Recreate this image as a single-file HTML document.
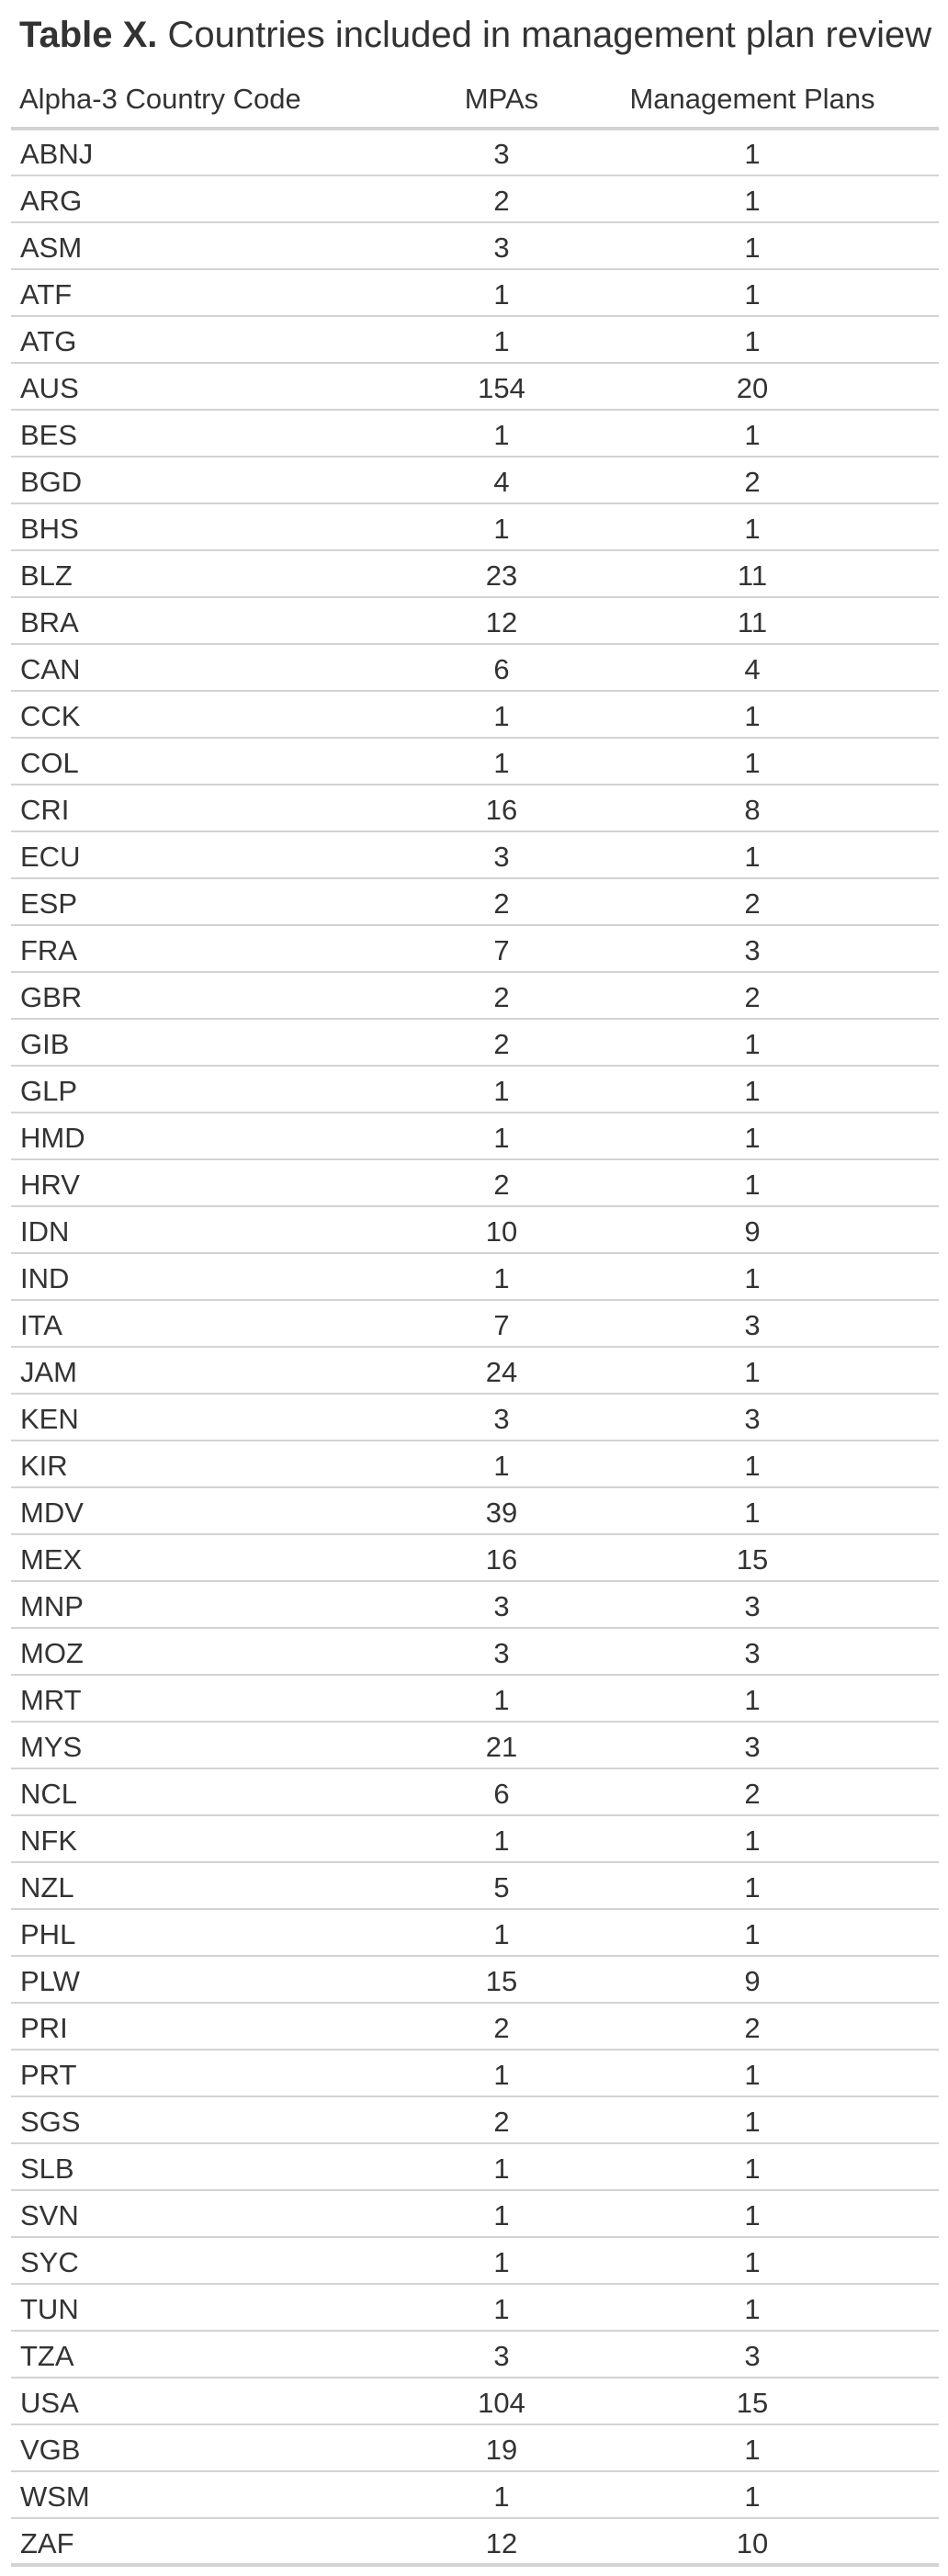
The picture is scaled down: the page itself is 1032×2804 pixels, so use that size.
<!DOCTYPE html>
<html><head><meta charset="utf-8"><style>
html,body{margin:0;padding:0;background:#fff;}
body{width:1032px;height:2804px;position:relative;font-family:"Liberation Sans",Arial,sans-serif;color:#333;overflow:hidden;}
#title{position:absolute;left:21px;top:14px;font-size:40px;line-height:48px;white-space:nowrap;color:#333;}
#title b{font-weight:bold;}
.hdr{position:absolute;top:88px;height:40px;font-size:31px;line-height:40px;color:#333;white-space:nowrap;}
.rule{position:absolute;left:12px;width:1010px;background:#d3d3d3;}
.row{position:absolute;left:0;width:1032px;height:51px;font-size:31px;line-height:51px;}
.row span{position:absolute;top:1px;}
.c1{left:22px;}
.c2{left:496px;width:100px;text-align:center;}
.c3{left:719px;width:200px;text-align:center;}
</style></head><body>
<div id="title"><b>Table X.</b> Countries included in management plan review</div>
<div class="hdr" style="left:21px">Alpha-3 Country Code</div>
<div class="hdr" style="left:486px;width:120px;text-align:center">MPAs</div>
<div class="hdr" style="left:669px;width:300px;text-align:center">Management Plans</div>
<div class="rule" style="top:138px;height:4px"></div>
<div id="tbody"></div>
<script>
const codes=["ABNJ","ARG","ASM","ATF","ATG","AUS","BES","BGD","BHS","BLZ","BRA","CAN","CCK","COL","CRI","ECU","ESP","FRA","GBR","GIB","GLP","HMD","HRV","IDN","IND","ITA","JAM","KEN","KIR","MDV","MEX","MNP","MOZ","MRT","MYS","NCL","NFK","NZL","PHL","PLW","PRI","PRT","SGS","SLB","SVN","SYC","TUN","TZA","USA","VGB","WSM","ZAF"];
const mpas=[3,2,3,1,1,154,1,4,1,23,12,6,1,1,16,3,2,7,2,2,1,1,2,10,1,7,24,3,1,39,16,3,3,1,21,6,1,5,1,15,2,1,2,1,1,1,1,3,104,19,1,12];
const plans=[1,1,1,1,1,20,1,2,1,11,11,4,1,1,8,1,2,3,2,1,1,1,1,9,1,3,1,3,1,1,15,3,3,1,3,2,1,1,1,9,2,1,1,1,1,1,1,3,15,1,1,10];
const tb=document.getElementById('tbody');
const top0=141,rh=51;
codes.forEach((c,i)=>{
  const r=document.createElement('div');
  r.className='row';
  r.style.top=(top0+i*rh)+'px';
  
  
  const a=document.createElement('span');a.className='c1';a.textContent=c;
  
  
  const b=document.createElement('span');b.className='c2';b.textContent=mpas[i];
  
  
  const d=document.createElement('span');d.className='c3';d.textContent=plans[i];
  
  
  r.appendChild(a);r.appendChild(b);r.appendChild(d);
  tb.appendChild(r);
  const ln=document.createElement('div');
  ln.className='rule';
  const last=i===codes.length-1;
  ln.style.top=(top0+(i+1)*rh-(last?3:2))+'px';
  ln.style.height=(last?4:2)+'px';
  
  
  tb.appendChild(ln);
});
</script>
</body></html>
